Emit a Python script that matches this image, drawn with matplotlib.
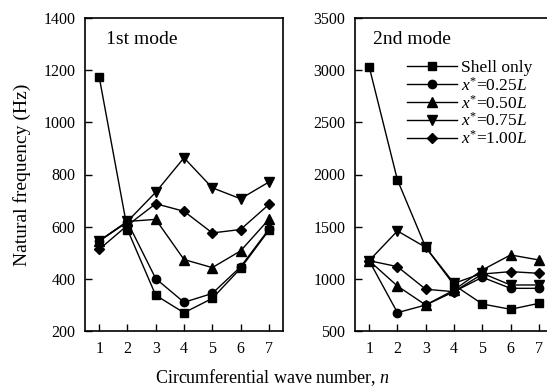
"""
Frecuencias naturales vs numero de onda circunferencial
"""

import numpy as np
import matplotlib
matplotlib.use('Agg')
import matplotlib.pyplot as plt

plt.rcParams['font.family'] = ['Liberation Serif', 'DejaVu Serif']
plt.rcParams['mathtext.fontset'] = 'custom'
plt.rcParams['mathtext.rm'] = 'Liberation Serif'
plt.rcParams['mathtext.it'] = 'Liberation Serif:italic'

n = [1, 2, 3, 4, 5, 6, 7]

# 1er modo (Hz)
m1_shell = [1175, 589, 337, 270, 325, 440, 586]
m1_025 = [545, 618, 401, 310, 344, 446, 590]
m1_050 = [545, 620, 628, 474, 443, 507, 628]
m1_075 = [545, 620, 732, 864, 749, 707, 771]
m1_100 = [513, 605, 688, 659, 576, 589, 685]

# 2do modo (Hz)
m2_shell = [3034, 1948, 1302, 941, 759, 708, 765]
m2_025 = [1174, 676, 749, 877, 1015, 909, 909]
m2_050 = [1174, 931, 749, 893, 1085, 1229, 1181]
m2_075 = [1174, 1459, 1302, 957, 1053, 941, 941]
m2_100 = [1174, 1117, 900, 877, 1046, 1069, 1053]

labels = ['Shell only', r'$x^{*}$=0.25$L$', r'$x^{*}$=0.50$L$',
          r'$x^{*}$=0.75$L$', r'$x^{*}$=1.00$L$']
markers = ['s', 'o', '^', 'v', 'D']
msizes = [5.5, 6, 6.5, 6.5, 5.5]

fig = plt.figure(figsize=(5.47, 3.91), dpi=100)
W, H = 547.0, 391.0
ax1 = fig.add_axes([85 / W, 1 - 331 / H, 198 / W, 313 / H])
ax2 = fig.add_axes([355 / W, 1 - 331 / H, 198 / W, 313 / H])

series1 = [m1_shell, m1_025, m1_050, m1_075, m1_100]
series2 = [m2_shell, m2_025, m2_050, m2_075, m2_100]

for i in range(5):
    ax1.plot(n, series1[i], color='black', lw=1.0, marker=markers[i],
             ms=msizes[i], mfc='black', mec='black')
    ax2.plot(n, series2[i], color='black', lw=1.0, marker=markers[i],
             ms=msizes[i], mfc='black', mec='black', label=labels[i])

ax1.set_ylim(200, 1400)
ax1.set_yticks(np.arange(200, 1401, 200))
ax2.set_ylim(500, 3500)
ax2.set_yticks(np.arange(500, 3501, 500))

for ax in (ax1, ax2):
    ax.set_xlim(0.5, 7.5)
    ax.set_xticks(n)
    ax.tick_params(direction='in', length=5, width=1, labelsize=11.5,
                   top=False, right=False, pad=7)
    for s in ax.spines.values():
        s.set_linewidth(1.2)

ax1.text(0.105, 0.93, '1st mode', transform=ax1.transAxes, fontsize=14,
         va='center', ha='left')
ax2.text(0.09, 0.93, '2nd mode', transform=ax2.transAxes, fontsize=14,
         va='center', ha='left')

ax2.legend(loc='upper left', bbox_to_anchor=(0.263, 0.865), frameon=False,
           fontsize=12.5, handlelength=2.9, handletextpad=0.2,
           labelspacing=0.0, borderaxespad=0, borderpad=0)

ax1.set_ylabel('Natural frequency (Hz)', fontsize=14, labelpad=9)
fig.text(273 / W, 1 - 378 / H, 'Circumferential wave number, $n$',
         fontsize=13, ha='center', va='center')

fig.savefig('out.png', dpi=100)
